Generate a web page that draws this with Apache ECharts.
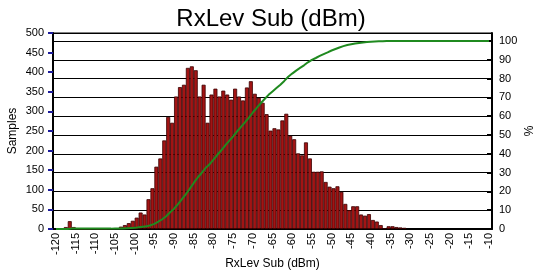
<!DOCTYPE html>
<html>
<head>
<meta charset="utf-8">
<script src="https://cdn.jsdelivr.net/npm/echarts@6/dist/echarts.min.js"></script>
<style>
html,body{margin:0;padding:0;background:#fff;}
#c{width:542px;height:274px;}
</style>
</head>
<body>
<div id="c"></div>
<script>
const titleText = 'RxLev Sub (dBm)';
const xAxisName = 'RxLev Sub (dBm)';
const leftAxisName = 'Samples';
const rightAxisName = '%';

const xTickLabels = [-120,-115,-110,-105,-100,-95,-90,-85,-80,-75,-70,-65,-60,-55,-50,-45,-40,-35,-30,-25,-20,-15,-10];
const leftTicks = [0,50,100,150,200,250,300,350,400,450,500];
const rightTicks = [0,10,20,30,40,50,60,70,80,90,100];

// histogram bins: 1 dBm wide, first bin centred at -118.5 dBm
const firstBinCenter = -118.5;
const sampleCounts = [
  1, 5, 20, 5, 1, 0, 0, 0, 1, 0, 0, 0, 1, 1, 2,
  6, 10, 15, 21, 29, 42, 37, 76, 104, 159, 180, 226, 286, 271, 338,
  362, 368, 411, 415, 405, 338, 368, 271, 343, 358, 338, 353, 343, 330, 358,
  338, 328, 361, 377, 345, 335, 322, 293, 251, 257, 254, 277, 294, 238, 229,
  193, 188, 221, 180, 146, 146, 147, 120, 108, 104, 109, 95, 64, 48, 58,
  58, 37, 34, 38, 23, 19, 10, 2, 7, 7, 5, 4, 3
];

// cumulative percentage, one point per dBm starting at -120
const cumStart = -120;
const cumPercent = [
  0, 0, 0, 0, 0.2, 0.2, 0.2, 0.2, 0.2, 0.2,
  0.2, 0.2, 0.2, 0.2, 0.2, 0.3, 0.3, 0.3, 0.4, 0.5,
  0.6, 0.9, 1.2, 1.4, 2.0, 2.7, 3.9, 5.2, 6.8, 8.9,
  10.8, 13.2, 15.9, 18.5, 21.5, 24.5, 27.4, 29.8, 32.5, 34.4,
  36.9, 39.5, 41.9, 44.5, 46.9, 49.3, 51.9, 54.3, 56.7, 59.3,
  62.0, 64.5, 66.9, 69.2, 71.4, 73.2, 75.0, 76.8, 78.8, 81.0,
  82.7, 84.3, 85.7, 87.1, 88.7, 90.0, 91.0, 92.1, 93.1, 94.0,
  95.0, 95.8, 96.6, 97.3, 97.9, 98.3, 98.7, 99.0, 99.3, 99.5,
  99.7, 99.8, 99.9, 99.9, 100, 100, 100, 100, 100, 100,
  100, 100, 100, 100, 100, 100, 100, 100, 100, 100,
  100, 100, 100, 100, 100, 100, 100, 100, 100, 100,
  100
];

const barData = sampleCounts.map((v, i) => [firstBinCenter + i, v]);
const lineData = cumPercent.map((v, i) => [cumStart + i, v]);

const font = 'Liberation Sans, Arial, sans-serif';
const chart = echarts.init(document.getElementById('c'), null, {renderer: 'canvas'});
chart.setOption({
  animation: false,
  backgroundColor: '#fff',
  textStyle: {fontFamily: font, color: '#000'},
  title: {
    text: titleText, left: 'center', top: 2,
    textStyle: {fontSize: 24, fontWeight: 'normal', color: '#000', fontFamily: font}
  },
  grid: {left: 53, right: 50, top: 33, bottom: 45, show: true, borderColor: '#000', borderWidth: 1,
         containLabel: false, outerBoundsMode: 'none'},
  xAxis: {
    type: 'value', min: -120.76, max: -9.24,
    name: xAxisName, nameLocation: 'middle', nameGap: 29, nameMoveOverlap: false,
    nameTextStyle: {fontSize: 12, color: '#000', fontFamily: font},
    axisLine: {show: true, lineStyle: {color: '#000', width: 2}},
    axisTick: {show: false},
    splitLine: {show: false},
    axisLabel: {customValues: xTickLabels, rotate: 90, fontSize: 11, color: '#000', margin: 4, fontFamily: font}
  },
  yAxis: [
    {
      type: 'value', min: 0, max: 500, interval: 50, position: 'left',
      name: leftAxisName, nameLocation: 'middle', nameGap: 34, nameMoveOverlap: false,
      nameTextStyle: {fontSize: 12, color: '#000', fontFamily: font},
      axisLine: {show: true, lineStyle: {color: '#000', width: 2}},
      axisTick: {show: true, length: 5, lineStyle: {color: '#1c1c9c', width: 2}},
      splitLine: {show: false},
      axisLabel: {customValues: leftTicks, fontSize: 11, color: '#000', margin: 9, fontFamily: font}
    },
    {
      type: 'value', min: 0, max: 104.3, interval: 10, position: 'right',
      name: rightAxisName, nameLocation: 'middle', nameGap: 32, nameMoveOverlap: false,
      nameTextStyle: {fontSize: 12, color: '#000', fontFamily: font},
      axisLine: {show: true, lineStyle: {color: '#000', width: 2}},
      axisTick: {show: true, inside: true, length: 5, lineStyle: {color: '#000', width: 2}},
      splitLine: {show: true, lineStyle: {color: '#000', width: 1}},
      axisLabel: {showMaxLabel: false, fontSize: 11, color: '#000', margin: 7, fontFamily: font}
    }
  ],
  series: [
    {
      type: 'bar', xAxisIndex: 0, yAxisIndex: 0, data: barData, barWidth: 4,
      itemStyle: {color: '#a31414', borderColor: '#3a0000', borderWidth: 0.8},
      z: 2
    },
    {
      type: 'line', xAxisIndex: 0, yAxisIndex: 1, data: lineData, showSymbol: false,
      lineStyle: {color: '#1f8a1f', width: 2}, z: 3
    }
  ]
});
</script>
</body>
</html>
